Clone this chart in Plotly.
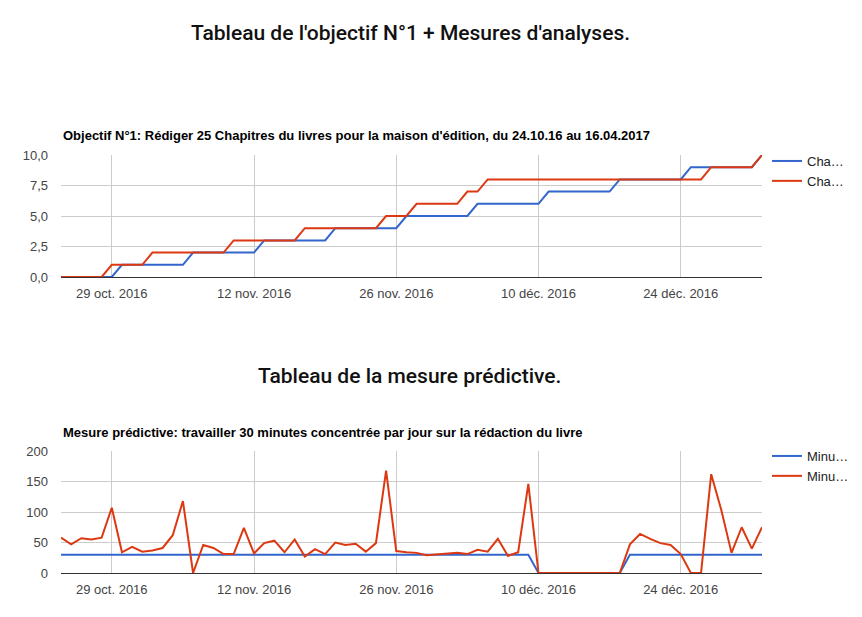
import pandas as pd
import plotly.graph_objects as go

# ---- data ----
start_date = "2016-10-24"
n_days = 70
dates = pd.date_range(start_date, periods=n_days, freq="D")

chap_prevus = ([0]*6 + [1]*7 + [2]*7 + [3]*7 + [4]*7 + [5]*7 + [6]*7 + [7]*7
               + [8]*7 + [9]*7 + [10])
chap_rediges = ([0]*5 + [1]*4 + [2]*8 + [3]*7 + [4]*8 + [5]*3 + [6]*5 + [7]*2
                + [8]*22 + [9]*5 + [10])

minutes_prevues = [30]*47 + [0]*9 + [30]*14
minutes_faites = [58, 47, 57, 55, 58, 107, 34, 43, 35, 37, 41, 62, 118, 0, 46, 41,
                  31, 31, 74, 32, 49, 53, 34, 55, 27, 39, 31, 50, 46, 48, 35, 49,
                  168, 36, 34, 33, 29, 30, 32, 33, 31, 38, 35, 56, 28, 34, 146,
                  0, 0, 0, 0, 0, 0, 0, 0, 0, 47, 64, 56, 49, 46, 31, 0, 0, 162,
                  103, 33, 75, 40, 75]

tick_dates = ["2016-10-29", "2016-11-12", "2016-11-26", "2016-12-10", "2016-12-24"]
tick_text = ["29 oct. 2016", "12 nov. 2016", "26 nov. 2016", "10 déc. 2016", "24 déc. 2016"]
y1_ticks = [0, 2.5, 5, 7.5, 10]
y1_text = ["0,0", "2,5", "5,0", "7,5", "10,0"]
y2_ticks = [0, 50, 100, 150, 200]
y2_text = ["0", "50", "100", "150", "200"]

main_title_1 = "Tableau de l'objectif N°1 + Mesures d'analyses."
main_title_2 = "Tableau de la mesure prédictive."
chart_title_1 = "Objectif N°1: Rédiger 25 Chapitres du livres pour la maison d'édition, du 24.10.16 au 16.04.2017"
chart_title_2 = "Mesure prédictive: travailler 30 minutes concentrée par jour sur la rédaction du livre"

BLUE = "#3366cc"
RED = "#dc3912"
W, H = 862, 617

fig = go.Figure()
fig.add_trace(go.Scatter(x=dates, y=chap_prevus, mode="lines", name="Cha…",
                         line=dict(color=BLUE, width=2), xaxis="x", yaxis="y", legend="legend"))
fig.add_trace(go.Scatter(x=dates, y=chap_rediges, mode="lines", name="Cha…",
                         line=dict(color=RED, width=2), xaxis="x", yaxis="y", legend="legend"))
fig.add_trace(go.Scatter(x=dates, y=minutes_prevues, mode="lines", name="Minu…",
                         line=dict(color=BLUE, width=2), xaxis="x2", yaxis="y2", legend="legend2"))
fig.add_trace(go.Scatter(x=dates, y=minutes_faites, mode="lines", name="Minu…",
                         line=dict(color=RED, width=2), xaxis="x2", yaxis="y2", legend="legend2"))

x0, x1 = 61 / W, 762 / W
tick_font = dict(family="Liberation Sans, Arial, sans-serif", size=13, color="#444")
legend_font = dict(family="Liberation Sans, Arial, sans-serif", size=13, color="#222")

xcommon = dict(range=["2016-10-24", "2017-01-01"], tickvals=tick_dates, ticktext=tick_text,
               showgrid=True, gridcolor="#cccccc", gridwidth=1, showline=False,
               zeroline=False, tickfont=tick_font, ticks="", ticklabelstandoff=7,
               domain=[x0, x1], fixedrange=True)
ycommon = dict(showgrid=True, gridcolor="#cccccc", gridwidth=1, zeroline=True,
               zerolinecolor="#333333", zerolinewidth=1, showline=False, ticks="",
               ticklabelstandoff=12, tickfont=tick_font, fixedrange=True)

fig.update_layout(
    width=W, height=H,
    margin=dict(l=0, r=0, t=0, b=0, autoexpand=False),
    paper_bgcolor="white", plot_bgcolor="white",
    xaxis=dict(**xcommon, anchor="y"),
    yaxis=dict(**ycommon, range=[0, 10], tickvals=y1_ticks, ticktext=y1_text,
               domain=[1 - 277 / H, 1 - 155 / H], anchor="x"),
    xaxis2=dict(**xcommon, anchor="y2"),
    yaxis2=dict(**ycommon, range=[0, 200], tickvals=y2_ticks, ticktext=y2_text,
                domain=[1 - 573 / H, 1 - 451 / H], anchor="x2"),
    legend=dict(x=767 / W, y=1 - 146 / H, xanchor="left", yanchor="top",
                font=legend_font, itemwidth=30, tracegroupgap=0, bgcolor="rgba(0,0,0,0)"),
    legend2=dict(x=767 / W, y=1 - 441 / H, xanchor="left", yanchor="top",
                 font=legend_font, itemwidth=30, tracegroupgap=0, bgcolor="rgba(0,0,0,0)"),
    showlegend=True,
)

title_font = dict(family="Roboto, sans-serif", size=21, color="#111", weight=500)
sub_font = dict(family="Liberation Sans, Arial, sans-serif", size=13, color="#000", weight="bold")
fig.add_annotation(text=main_title_1, x=410 / W, y=1 - 33 / H, xref="paper", yref="paper",
                   xanchor="center", yanchor="middle", showarrow=False, font=title_font)
fig.add_annotation(text=main_title_2, x=409 / W, y=1 - 376 / H, xref="paper", yref="paper",
                   xanchor="center", yanchor="middle", showarrow=False, font=title_font)
fig.add_annotation(text=chart_title_1, x=x0, y=1 - 135 / H, xref="paper", yref="paper",
                   xanchor="left", yanchor="middle", showarrow=False, font=sub_font)
fig.add_annotation(text=chart_title_2, x=x0, y=1 - 432 / H, xref="paper", yref="paper",
                   xanchor="left", yanchor="middle", showarrow=False, font=sub_font)

fig.write_html("out.html")
